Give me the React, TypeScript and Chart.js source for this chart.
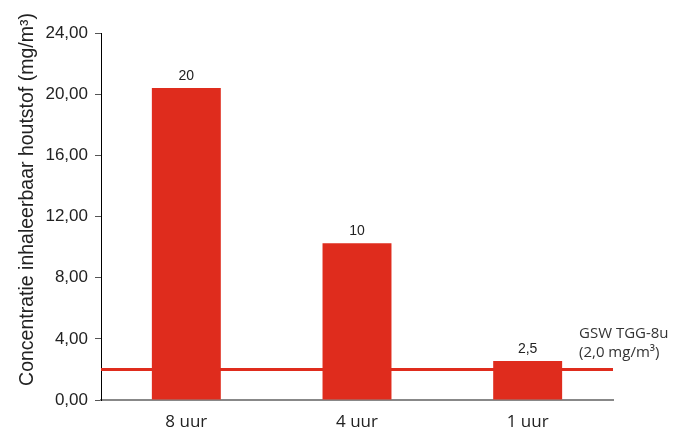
import React, { useEffect, useRef } from "react";
import { Chart, registerables } from "chart.js";

Chart.register(...registerables);

const categories = ["8 uur", "4 uur", "1 uur"];
const concentrations = [20.4, 10.25, 2.55];
const valueLabels = ["20", "10", "2,5"];
const yTicks = [0, 4, 8, 12, 16, 20, 24];
const limitValue = 2.0;
const limitLabel = ["GSW TGG-8u", "(2,0 mg/m³)"];
const yTitle = "Concentratie inhaleerbaar houtstof (mg/m³)";

const RED = "#DF2C1D";

const overlayPlugin = {
  id: "overlay",
  beforeDatasetsDraw(chart: any) {
    const { ctx, chartArea, scales } = chart;
    const y = scales.y.getPixelForValue(limitValue);
    ctx.save();
    ctx.strokeStyle = RED;
    ctx.lineWidth = 3;
    ctx.beginPath();
    ctx.moveTo(chartArea.left, y);
    ctx.lineTo(chartArea.right, y);
    ctx.stroke();
    ctx.restore();
  },
  afterDatasetsDraw(chart: any) {
    const { ctx, chartArea, scales } = chart;
    const meta = chart.getDatasetMeta(0);
    ctx.save();
    ctx.fillStyle = "#222";
    ctx.font = "14px 'Liberation Sans', Arial, sans-serif";
    ctx.textAlign = "center";
    ctx.textBaseline = "alphabetic";
    meta.data.forEach((bar: any, i: number) => {
      ctx.fillText(valueLabels[i], bar.x, bar.y - 8);
    });
    // limit annotation
    const ly = scales.y.getPixelForValue(limitValue);
    ctx.fillStyle = "#333";
    ctx.font = "15px 'Open Sans', 'Liberation Sans', sans-serif";
    ctx.textAlign = "left";
    ctx.textBaseline = "middle";
    ctx.fillText(limitLabel[0], chartArea.right - 34, ly - 36);
    ctx.fillText(limitLabel[1], chartArea.right - 34, ly - 17);
    // y title
    const cy = (chartArea.top + chartArea.bottom) / 2 - 17;
    ctx.translate(33, cy);
    ctx.rotate(-Math.PI / 2);
    ctx.textAlign = "center";
    ctx.textBaseline = "alphabetic";
    ctx.fillStyle = "#222";
    ctx.font = "19.5px 'Liberation Sans', Arial, sans-serif";
    ctx.fillText(yTitle, 0, 0);
    ctx.restore();
  },
};

export default function App() {
  const ref = useRef<HTMLCanvasElement | null>(null);
  useEffect(() => {
    document.body.style.margin = "0";
    const chart = new Chart(ref.current as HTMLCanvasElement, {
      type: "bar",
      data: {
        labels: categories,
        datasets: [
          {
            data: concentrations,
            backgroundColor: RED,
            borderWidth: 0,
            barPercentage: 0.404,
            categoryPercentage: 1,
          },
        ],
      },
      options: {
        animation: false,
        responsive: false,
        layout: { padding: { top: 33, right: 70, bottom: 0, left: 0 } },
        plugins: { legend: { display: false }, tooltip: { enabled: false } },
        scales: {
          x: {
            grid: { display: false, drawTicks: false },
            border: { display: true, color: "#888", width: 2 },
            ticks: {
              color: "#222",
              font: { family: "'Open Sans', 'Liberation Sans', sans-serif", size: 17 },
              padding: 12,
            },
            afterFit(scale: any) {
              scale.height = 30;
            },
          },
          y: {
            min: 0,
            max: 24,
            afterBuildTicks(scale: any) {
              scale.ticks = yTicks.map((v) => ({ value: v }));
            },
            grid: {
              display: true,
              drawOnChartArea: false,
              drawTicks: true,
              tickLength: 6,
              tickColor: "#555",
            },
            border: { display: true, color: "#000", width: 1 },
            ticks: {
              color: "#222",
              font: { family: "'Liberation Sans', Arial, sans-serif", size: 17 },
              padding: 7,
              callback: (v: any) => Number(v).toFixed(2).replace(".", ","),
            },
            afterFit(scale: any) {
              scale.width = 101;
            },
          },
        },
      },
      plugins: [overlayPlugin],
    });
    return () => chart.destroy();
  }, []);
  return <canvas ref={ref} width={683} height={430} style={{ display: "block" }} />;
}
